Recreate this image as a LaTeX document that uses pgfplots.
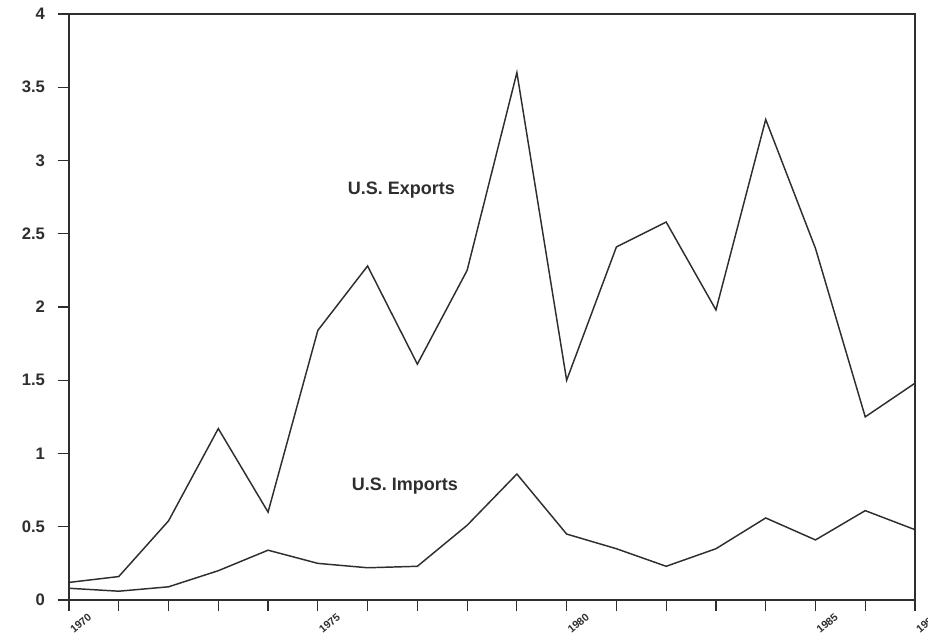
\documentclass[border=0pt]{standalone}
\usepackage{fontspec}
\setmainfont{Liberation Sans}
\usepackage{pgfplots}
\pgfplotsset{compat=1.18}
\definecolor{ink}{HTML}{2E2E2E}
\begin{document}
\begin{tikzpicture}
\useasboundingbox (-51.75pt,-25.5pt) rectangle (644.25pt,450pt);
\begin{axis}[
  scale only axis,
  width=634.5pt, height=439.5pt,
  xmin=1970, xmax=1987, ymin=0, ymax=4,
  axis line style={ink, line width=0.9pt},
  xtick={1970,1975,1980,1985,1987},
  xticklabels={1970,1975,1980,1985,1987},
  minor xtick={1971,1972,1973,1974,1976,1977,1978,1979,1981,1982,1983,1984,1986},
  ytick={0,0.5,...,4},
  yticklabels={0,0.5,1,1.5,2,2.5,3,3.5,4},
  tick align=outside,
  xtick pos=bottom, ytick pos=left,
  tick style={ink, line width=0.9pt},
  major tick length=8.5pt,
  minor tick length=8.5pt,
  /pgf/number format/assume math mode=true,
  yticklabel style={font=\bfseries\fontsize{12.5}{14}\selectfont, text=ink, xshift=-6pt},
  xticklabel style={font=\bfseries\fontsize{8}{9}\selectfont, text=ink, rotate=40, anchor=center, yshift=-12.5pt, xshift=1pt},
  clip=false,
]
\addplot[ink, line width=1.1pt] coordinates {
(1970,0.12) (1971,0.16) (1972,0.54) (1973,1.17) (1974,0.60) (1975,1.84)
(1976,2.28) (1977,1.61) (1978,2.25) (1979,3.60) (1980,1.50) (1981,2.41)
(1982,2.58) (1983,1.98) (1984,3.28) (1985,2.40) (1986,1.25) (1987,1.48)};
\addplot[ink, line width=1.1pt] coordinates {
(1970,0.08) (1971,0.06) (1972,0.09) (1973,0.20) (1974,0.34) (1975,0.25)
(1976,0.22) (1977,0.23) (1978,0.51) (1979,0.86) (1980,0.45) (1981,0.35)
(1982,0.23) (1983,0.35) (1984,0.56) (1985,0.41) (1986,0.61) (1987,0.48)};
\node[font=\bfseries\fontsize{13.5}{15}\selectfont, text=ink] at (axis cs:1976.68,2.80) {U.S. Exports};
\node[font=\bfseries\fontsize{13.5}{15}\selectfont, text=ink] at (axis cs:1976.75,0.776) {U.S. Imports};
\end{axis}
\end{tikzpicture}
\end{document}
